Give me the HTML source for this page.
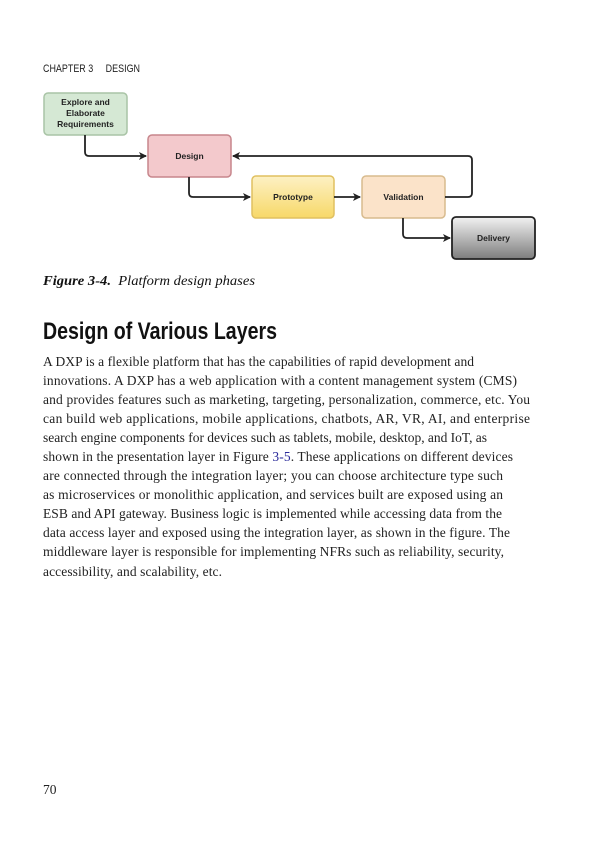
<!DOCTYPE html>
<html><head><meta charset="utf-8"><style>
html,body{margin:0;padding:0;background:#fff;width:600px;height:857px;overflow:hidden}
</style></head><body>
<svg width="600" height="857" xmlns="http://www.w3.org/2000/svg">
<defs>
<linearGradient id="gp" x1="0" y1="0" x2="0" y2="1"><stop offset="0" stop-color="#fdf1c4"/><stop offset="1" stop-color="#f7d868"/></linearGradient>
<linearGradient id="gd" x1="0" y1="0" x2="0" y2="1"><stop offset="0" stop-color="#f2f2f2"/><stop offset="1" stop-color="#7d7d7d"/></linearGradient>
<marker id="ah" markerWidth="8" markerHeight="8" refX="7" refY="4" orient="auto" markerUnits="userSpaceOnUse"><path d="M0,0 L8,4 L0,8 L2,4 z" fill="#222"/></marker>
</defs>
<text x="43" y="72" font-family="Liberation Sans, sans-serif" font-size="11" fill="#222" textLength="97" lengthAdjust="spacingAndGlyphs">CHAPTER 3&#160;&#160;&#160;&#160;&#160;DESIGN</text>

<g font-family="Liberation Sans, sans-serif" font-size="8.5" font-weight="bold" fill="#222" text-anchor="middle">
<rect x="44" y="93" width="83" height="42" rx="4" fill="#d5e8d4" stroke="#a9c4a6" stroke-width="1.5"/>
<text x="85.5" y="105">Explore and</text><text x="85.5" y="116">Elaborate</text><text x="85.5" y="127">Requirements</text>
<rect x="148" y="135" width="83" height="42" rx="4" fill="#f3c9cc" stroke="#c7868c" stroke-width="1.5"/>
<text x="189.5" y="159">Design</text>
<rect x="252" y="176" width="82" height="42" rx="4" fill="url(#gp)" stroke="#e0c060" stroke-width="1.5"/>
<text x="293" y="200">Prototype</text>
<rect x="362" y="176" width="83" height="42" rx="4" fill="#fbe3c9" stroke="#d8bb8e" stroke-width="1.5"/>
<text x="403.5" y="200">Validation</text>
<rect x="452" y="217" width="83" height="42" rx="4" fill="url(#gd)" stroke="#222" stroke-width="1.8"/>
<text x="493.5" y="241">Delivery</text>
</g>
<g fill="none" stroke="#222" stroke-width="1.8">
<path d="M85,135 V152 Q85,156 89,156 H146" marker-end="url(#ah)"/>
<path d="M189,177 V193 Q189,197 193,197 H250" marker-end="url(#ah)"/>
<path d="M334,197 H360" marker-end="url(#ah)"/>
<path d="M445,197 H468 Q472,197 472,193 V160 Q472,156 468,156 H233" marker-end="url(#ah)"/>
<path d="M403,218 V234 Q403,238 407,238 H450" marker-end="url(#ah)"/>
</g>
<text x="43" y="285" font-family="Liberation Serif, serif" font-size="14" fill="#111" textLength="212" lengthAdjust="spacingAndGlyphs"><tspan font-weight="bold" font-style="italic">Figure 3-4.</tspan><tspan font-style="italic">&#160; Platform design phases</tspan></text>

<text x="43" y="339" font-family="Liberation Sans, sans-serif" font-size="24" font-weight="bold" fill="#111" textLength="234" lengthAdjust="spacingAndGlyphs">Design of Various Layers</text>

<g font-family="Liberation Serif, serif" font-size="13.5" fill="#222" lengthAdjust="spacingAndGlyphs">
<text x="43" y="366" textLength="431">A DXP is a flexible platform that has the capabilities of rapid development and</text>
<text x="43" y="385" textLength="474">innovations. A DXP has a web application with a content management system (CMS)</text>
<text x="43" y="404" textLength="487">and provides features such as marketing, targeting, personalization, commerce, etc. You</text>
<text x="43" y="423" textLength="487">can build web applications, mobile applications, chatbots, AR, VR, AI, and enterprise</text>
<text x="43" y="442" textLength="444">search engine components for devices such as tablets, mobile, desktop, and IoT, as</text>
<text x="43" y="461" textLength="470">shown in the presentation layer in Figure <tspan fill="#2a2a9a">3-5</tspan>. These applications on different devices</text>
<text x="43" y="480" textLength="460">are connected through the integration layer; you can choose architecture type such</text>
<text x="43" y="499" textLength="460">as microservices or monolithic application, and services built are exposed using an</text>
<text x="43" y="518" textLength="459">ESB and API gateway. Business logic is implemented while accessing data from the</text>
<text x="43" y="537" textLength="467">data access layer and exposed using the integration layer, as shown in the figure. The</text>
<text x="43" y="556" textLength="461">middleware layer is responsible for implementing NFRs such as reliability, security,</text>
<text x="43" y="576" textLength="179">accessibility, and scalability, etc.</text>
</g>
<text x="43" y="794" font-family="Liberation Serif, serif" font-size="13.5" fill="#222">70</text>
</svg>
</body></html>
